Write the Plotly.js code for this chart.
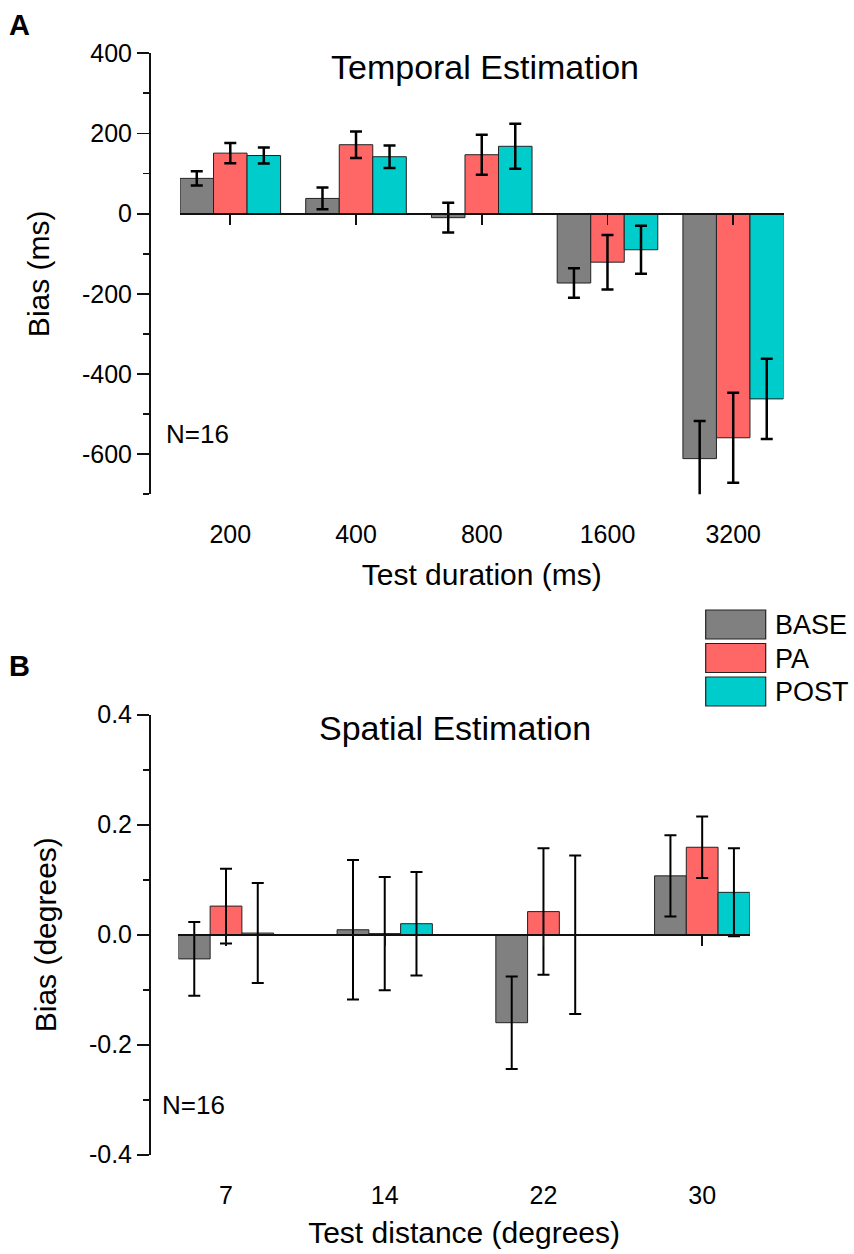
<!DOCTYPE html>
<html><head><meta charset="utf-8">
<script src="https://cdn.plot.ly/plotly-3.0.1.min.js"></script>
<style>html,body{margin:0;padding:0;background:#fff}#chart{width:854px;height:1254px}</style>
</head><body><div id="chart"></div>
<script>
// ---------- data ----------
const seriesNames = ['BASE', 'PA', 'POST'];
const seriesColors = ['#808080', '#FF6666', '#00CCCC'];

const durationLabels = ['200', '400', '800', '1600', '3200'];
const temporalBase    = [88, 38, -10, -173, -611];
const temporalBaseErr = [18, 27, 37, 37, 94];
const temporalPA      = [151, 172, 147, -121, -559];
const temporalPAErr   = [25, 33, 50, 68, 112];
const temporalPost    = [145, 142, 168, -90, -462];
const temporalPostErr = [20, 28, 56, 60, 100];

const distanceLabels = ['7', '14', '22', '30'];
const spatialBase    = [-0.044, 0.009, -0.160, 0.107];
const spatialBaseErr = [0.067, 0.127, 0.084, 0.074];
const spatialPA      = [0.052, 0.002, 0.042, 0.159];
const spatialPAErr   = [0.068, 0.103, 0.115, 0.056];
const spatialPost    = [0.003, 0.020, 0.000, 0.077];
const spatialPostErr = [0.091, 0.094, 0.144, 0.080];

const temporalTickVals = [400, 200, 0, -200, -400, -600];
const temporalTickText = ['400', '200', '0', '-200', '-400', '-600'];
const temporalMinorTicks = [300, 100, -100, -300, -500, -700];
const spatialTickVals = [0.4, 0.2, 0, -0.2, -0.4];
const spatialTickText = ['0.4', '0.2', '0.0', '-0.2', '-0.4'];
const spatialMinorTicks = [0.3, 0.1, -0.1, -0.3];

// ---------- layout helpers ----------
const W = 854, H = 1254;
const fx = p => p / W;
const fy = p => 1 - p / H;
const FONT = 'Liberation Sans, Arial, Helvetica, sans-serif';
const INK = '#111';

const topRange = [-700, 400];
const botRange = [-0.4, 0.4];
const topDomainY = [fy(494.3), fy(53.3)];
const botDomainY = [fy(1154.7), fy(714.7)];
const zeroPos = (dom, rng) => dom[0] + (0 - rng[0]) / (rng[1] - rng[0]) * (dom[1] - dom[0]);

const topGroup = 0.8, botGroup = 0.6;

const temporalVals = [temporalBase, temporalPA, temporalPost];
const temporalErrs = [temporalBaseErr, temporalPAErr, temporalPostErr];
const spatialVals = [spatialBase, spatialPA, spatialPost];
const spatialErrs = [spatialBaseErr, spatialPAErr, spatialPostErr];

const traces = [];
seriesNames.forEach((name, i) => {
  traces.push({
    type: 'bar', name: name, x: durationLabels, y: temporalVals[i],
    xaxis: 'x', yaxis: 'y',
    width: topGroup / 3, offset: -topGroup / 2 + i * topGroup / 3,
    marker: {color: seriesColors[i], line: {color: '#222', width: 1}},
    error_y: {type: 'data', array: temporalErrs[i], color: '#000', thickness: 2.5, width: 6},
    showlegend: false
  });
});
seriesNames.forEach((name, i) => {
  traces.push({
    type: 'bar', name: name, x: distanceLabels, y: spatialVals[i],
    xaxis: 'x3', yaxis: 'y2',
    width: botGroup / 3, offset: -botGroup / 2 + i * botGroup / 3,
    marker: {color: seriesColors[i], line: {color: '#222', width: 1}},
    error_y: {type: 'data', array: spatialErrs[i], color: '#000', thickness: 2, width: 6},
    showlegend: false
  });
});
// invisible helper traces so the zero-line tick axes get drawn
traces.push({type: 'scatter', mode: 'none', x: durationLabels.map((_, i) => i), y: temporalBase,
  xaxis: 'x2', yaxis: 'y', showlegend: false, hoverinfo: 'skip'});
traces.push({type: 'scatter', mode: 'none', x: distanceLabels.map((_, i) => i), y: spatialBase,
  xaxis: 'x4', yaxis: 'y2', showlegend: false, hoverinfo: 'skip'});

const yAxisCommon = {
  anchor: 'free', position: fx(150), showline: true, linecolor: INK, linewidth: 2,
  ticks: 'outside', ticklen: 12, tickwidth: 1.8, tickcolor: INK, tickmode: 'array',
  showgrid: false, zeroline: false, tickfont: {size: 25, color: '#000'}
};
const labelAxisCommon = {
  type: 'category', showline: false, ticks: 'outside', ticklen: 18,
  tickcolor: 'rgba(0,0,0,0)', showgrid: false, zeroline: false,
  tickfont: {size: 25, color: '#000'}
};
const zeroAxisCommon = {
  type: 'linear', anchor: 'free', showticklabels: false, ticks: 'outside', ticklen: 10,
  tickwidth: 1.8, tickcolor: INK, showline: true, linewidth: 2, linecolor: INK,
  showgrid: false, zeroline: false, tickmode: 'array'
};

const topRangeX = [-0.4, durationLabels.length - 0.6];
const botRangeX = [-0.3, distanceLabels.length - 0.7];

const layout = {
  width: W, height: H,
  margin: {l: 0, r: 0, t: 0, b: 0},
  paper_bgcolor: '#fff', plot_bgcolor: 'rgba(0,0,0,0)',
  font: {family: FONT, color: '#000'},
  showlegend: false,
  barmode: 'overlay',
  yaxis: Object.assign({}, yAxisCommon, {
    domain: topDomainY, range: topRange,
    tickvals: temporalTickVals, ticktext: temporalTickText,
    minor: {tickmode: 'array', tickvals: temporalMinorTicks, ticks: 'outside', ticklen: 6, tickwidth: 1.8, tickcolor: INK},
    title: {text: 'Bias (ms)', font: {size: 30}, standoff: 22}
  }),
  yaxis2: Object.assign({}, yAxisCommon, {
    domain: botDomainY, range: botRange,
    tickvals: spatialTickVals, ticktext: spatialTickText,
    minor: {tickmode: 'array', tickvals: spatialMinorTicks, ticks: 'outside', ticklen: 6, tickwidth: 1.8, tickcolor: INK},
    title: {text: 'Bias (degrees)', font: {size: 30}, standoff: 22}
  }),
  xaxis: Object.assign({}, labelAxisCommon, {
    domain: [fx(180), fx(783.5)], anchor: 'y', range: topRangeX,
    title: {text: 'Test duration (ms)', font: {size: 30}, standoff: 16}
  }),
  xaxis2: Object.assign({}, zeroAxisCommon, {
    overlaying: 'x', position: zeroPos(topDomainY, topRange), range: topRangeX,
    tickvals: durationLabels.map((_, i) => i)
  }),
  xaxis3: Object.assign({}, labelAxisCommon, {
    domain: [fx(178.4), fx(749.8)], anchor: 'y2', range: botRangeX,
    title: {text: 'Test distance (degrees)', font: {size: 30}, standoff: 14}
  }),
  xaxis4: Object.assign({}, zeroAxisCommon, {
    overlaying: 'x3', position: zeroPos(botDomainY, botRange), range: botRangeX,
    tickvals: distanceLabels.map((_, i) => i)
  }),
  annotations: [],
  shapes: []
};

function addText(text, x, y, size, opts) {
  layout.annotations.push(Object.assign({
    text: text, xref: 'paper', yref: 'paper', x: fx(x), y: fy(y),
    xanchor: 'center', yanchor: 'middle', showarrow: false,
    font: {family: FONT, size: size, color: '#000'}
  }, opts || {}));
}
addText('<b>A</b>', 19, 25, 29);
addText('<b>B</b>', 19, 666, 29);
addText('Temporal Estimation', 485, 67, 34);
addText('Spatial Estimation', 455, 728, 34);
addText('N=16', 197.5, 434, 26);
addText('N=16', 193, 1104.5, 26);

// legend (boxes + real text labels)
seriesNames.forEach((name, i) => {
  const top = 610 + i * 33.5;
  layout.shapes.push({
    type: 'rect', xref: 'paper', yref: 'paper',
    x0: fx(705.7), x1: fx(765.7), y0: fy(top + 29), y1: fy(top),
    fillcolor: seriesColors[i], line: {color: '#222', width: 1.2}
  });
  addText(name, 773, top + 15, 27, {xanchor: 'left'});
});

Plotly.newPlot('chart', traces, layout, {staticPlot: true, displayModeBar: false});
</script>
</body></html>
